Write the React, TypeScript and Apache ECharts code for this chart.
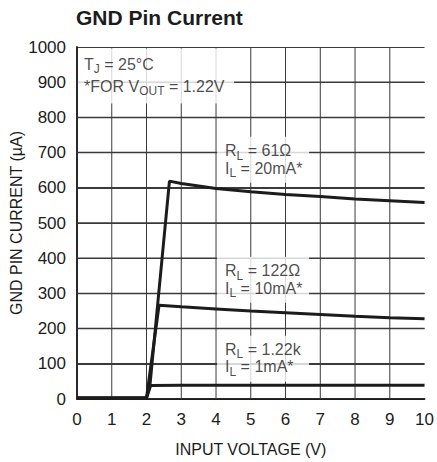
import React, { useEffect, useRef } from "react";
import * as echarts from "echarts";

// Input voltage (V) vs GND pin current (µA)
const curveRL1k22: [number, number][] = [
  [0, 3], [2, 3], [2.12, 38], [3, 39], [5, 39], [7, 39], [10, 39],
];
const curveRL122: [number, number][] = [
  [0, 3], [2, 3], [2.36, 266], [3, 262], [4, 256], [5, 250], [6, 245],
  [7, 240], [8, 235], [9, 231], [10, 228],
];
const curveRL61: [number, number][] = [
  [0, 3], [2, 3], [2.1, 40], [2.66, 619], [3, 612], [3.5, 605], [4, 598],
  [5, 589], [6, 581], [7, 575], [8, 568], [9, 563], [10, 558],
];

// interior grid lines (tick values)
const xGridTicks = [1, 2, 3, 4, 5, 6, 7, 8, 9];
const yGridTicks = [100, 200, 300, 400, 500, 600, 700, 800, 900];

const titleText = "GND Pin Current";
const xName = "INPUT VOLTAGE (V)";
const yName = "GND PIN CURRENT (µA)";

// annotation anchors (top-left of each white text box, data units)
const noteAnchors: [number, number][] = [
  [0.03, 996],
  [4.03, 745],
  [4.03, 404],
  [4.03, 180],
];
const noteTexts = [
  "{n|T}{s|J}{n| = 25°C}\n{n|*FOR V}{s|OUT}{n| = 1.22V}",
  "{n|R}{s|L}{n| = 61Ω}\n{n|I}{s|L}{n| = 20mA*}",
  "{n|R}{s|L}{n| = 122Ω}\n{n|I}{s|L}{n| = 10mA*}",
  "{n|R}{s|L}{n| = 1.22k}\n{n|I}{s|L}{n| = 1mA*}",
];

const FONT = "'Liberation Sans', Arial, sans-serif";
const INK = "#1c1c1c";
const GRIDC = "#3a3a3a";

export default function App() {
  const ref = useRef<HTMLDivElement>(null);
  useEffect(() => {
    if (!ref.current) return;
    const chart = echarts.init(ref.current, undefined, { renderer: "svg" });

    const lineSeries = (data: [number, number][]) => ({
      type: "line",
      data,
      symbol: "none",
      lineStyle: { color: INK, width: 3 },
      z: 3,
      silent: true,
    });

    const gridSeries = (data: [number, number][], w: number) => ({
      type: "line",
      data,
      symbol: "none",
      clip: false,
      lineStyle: { color: GRIDC, width: w },
      z: 1,
      silent: true,
    });

    const richFor = (lh: number) => ({
      n: { fontSize: 16, lineHeight: lh, fontFamily: FONT, color: INK },
      s: {
        fontSize: 12,
        lineHeight: 10,
        fontFamily: FONT,
        color: INK,
        padding: [10, 0, 0, 0],
      },
    });

    const noteData = noteAnchors.map((p, i) => {
      const first = i === 0;
      return {
        value: p,
        label: {
          show: true,
          position: [0, 0],
          align: "left",
          verticalAlign: "top",
          formatter: noteTexts[i],
          backgroundColor: "#ffffff",
          width: first ? 150 : 84,
          padding: first ? [5, 0, 6, 6] : [5, 0, 6, 8],
          rich: richFor(first ? 22 : 17.5),
        },
      };
    });

    const frameAxis = {
      show: true,
      axisLine: { show: true, lineStyle: { color: INK, width: 1.5 } },
      axisTick: { show: false },
      axisLabel: { show: false },
      splitLine: { show: false },
    };

    const gridLines = [
      ...xGridTicks.map((v) =>
        gridSeries(
          [
            [v, 0],
            [v, 1000],
          ],
          1
        )
      ),
      ...yGridTicks.map((v) =>
        gridSeries(
          [
            [0, v],
            [10, v],
          ],
          1.5
        )
      ),
    ];

    chart.setOption({
      animation: false,
      title: {
        text: titleText,
        left: 71,
        top: 2,
        textStyle: {
          fontFamily: FONT,
          fontWeight: "bold",
          fontSize: 21,
          color: INK,
        },
      },
      grid: {
        left: 76,
        right: 9,
        top: 47,
        bottom: 63,
        containLabel: false,
      },
      xAxis: [
        {
          type: "value",
          min: 0,
          max: 10,
          interval: 1,
          name: xName,
          nameLocation: "middle",
          nameGap: 42,
          nameMoveOverlap: false,
          nameTextStyle: { fontFamily: FONT, fontSize: 16, color: INK },
          axisLine: { show: true, lineStyle: { color: INK, width: 1.5 } },
          axisTick: { show: false },
          axisLabel: { margin: 12, fontFamily: FONT, fontSize: 17, color: INK },
          splitLine: { show: false },
        },
        {
          ...frameAxis,
          type: "value",
          position: "top",
          min: 0,
          max: 10,
          interval: 1,
        },
      ],
      yAxis: [
        {
          type: "value",
          min: 0,
          max: 1000,
          interval: 100,
          name: yName,
          nameLocation: "middle",
          nameGap: 53,
          nameMoveOverlap: false,
          nameTextStyle: { fontFamily: FONT, fontSize: 16, color: INK },
          axisLine: { show: true, lineStyle: { color: INK, width: 1.5 } },
          axisTick: { show: false },
          axisLabel: {
            margin: 11,
            fontFamily: FONT,
            fontSize: 17,
            color: INK,
            formatter: (v: number) => String(v),
          },
          splitLine: { show: true, lineStyle: { color: GRIDC, width: 1 } },
        },
        {
          ...frameAxis,
          type: "value",
          position: "right",
          min: 0,
          max: 1000,
          interval: 100,
        },
      ],
      series: [
        ...gridLines,
        lineSeries(curveRL1k22),
        lineSeries(curveRL122),
        lineSeries(curveRL61),
        {
          type: "scatter",
          data: noteData,
          symbolSize: 0,
          itemStyle: { color: "rgba(0,0,0,0)" },
          z: 5,
          silent: true,
        },
      ],
    });
    return () => chart.dispose();
  }, []);

  return (
    <div
      ref={ref}
      style={{
        position: "fixed",
        left: 0,
        top: 0,
        width: 437,
        height: 462,
        background: "#ffffff",
      }}
    />
  );
}
